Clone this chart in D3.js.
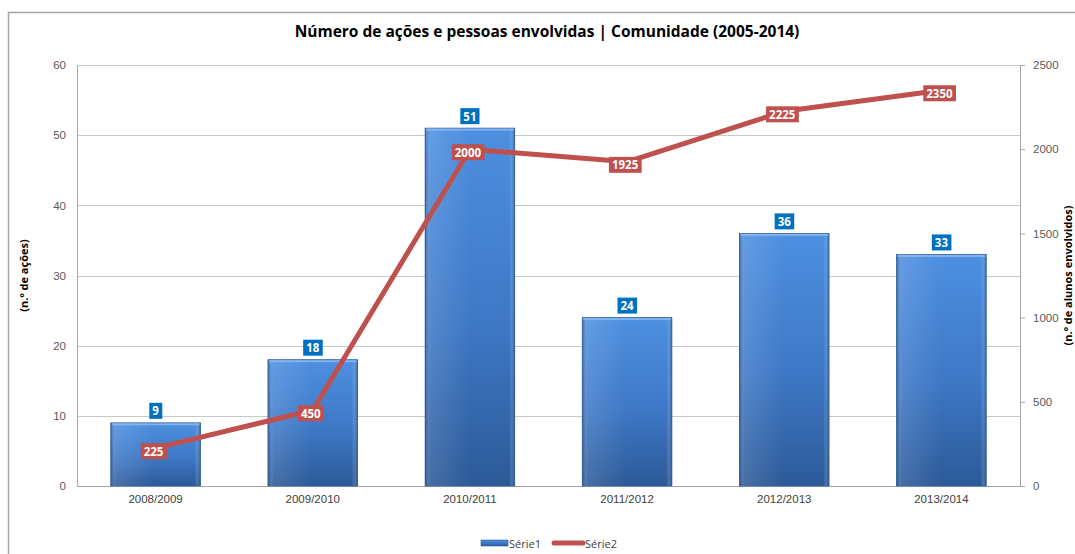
<!DOCTYPE html>
<html>
<head>
<meta charset="utf-8">
<script src="https://cdn.jsdelivr.net/npm/d3@7"></script>
<style>
  body { margin: 0; background: #fff; }
  svg { display: block; font-family: "Open Sans", "Noto Sans", sans-serif; }
</style>
</head>
<body>
<div id="chart"></div>
<script>
// Data
const categories = ["2008/2009", "2009/2010", "2010/2011", "2011/2012", "2012/2013", "2013/2014"];
const serie1 = [9, 18, 51, 24, 36, 33];
const serie2 = [225, 450, 2000, 1925, 2225, 2350];
const leftTicks = [0, 10, 20, 30, 40, 50, 60];
const rightTicks = [0, 500, 1000, 1500, 2000, 2500];
const seriesNames = ["Série1", "Série2"];

const W = 1075;
const H = 554;
const margin = { top: 65, bottom: 68, left: 77, right: 55 };
const width = W - margin.left - margin.right;
const height = H - margin.top - margin.bottom;
const font = '"Open Sans", "Noto Sans", sans-serif';

const svg = d3.select("#chart").append("svg").attr("width", W).attr("height", H);

// Frame of the chart area
svg.append("path")
  .attr("d", `M8.5,${H}V12.5H${W}`)
  .attr("fill", "none")
  .attr("stroke", "#a6a6a6")
  .attr("stroke-width", 1.5);

const defs = svg.append("defs");
const grad = defs.append("linearGradient").attr("id", "barGrad")
  .attr("x1", 0).attr("y1", 0).attr("x2", 0).attr("y2", 1);
grad.append("stop").attr("offset", "0%").attr("stop-color", "#4d8fe0");
grad.append("stop").attr("offset", "55%").attr("stop-color", "#3e78c6");
grad.append("stop").attr("offset", "100%").attr("stop-color", "#2c5a98");
const side = defs.append("linearGradient").attr("id", "barSide")
  .attr("x1", 0).attr("y1", 0).attr("x2", 1).attr("y2", 0);
side.append("stop").attr("offset", "0%").attr("stop-color", "#1f4a85").attr("stop-opacity", 0.55);
side.append("stop").attr("offset", "6%").attr("stop-color", "#ffffff").attr("stop-opacity", 0.12);
side.append("stop").attr("offset", "50%").attr("stop-color", "#ffffff").attr("stop-opacity", 0);
side.append("stop").attr("offset", "94%").attr("stop-color", "#ffffff").attr("stop-opacity", 0);
side.append("stop").attr("offset", "100%").attr("stop-color", "#1f4a85").attr("stop-opacity", 0.55);

const chart = svg.append("g").attr("transform", `translate(${margin.left},${margin.top})`);

// Scales
const xScale = d3.scaleBand().domain(categories).range([0, width]).paddingInner(0.43).paddingOuter(0.215);
const xPoint = (c) => xScale(c) + xScale.bandwidth() / 2;
const yLeft = d3.scaleLinear().domain([0, 60]).range([height, 0]);
const yRight = d3.scaleLinear().domain([0, 2500]).range([height, 0]);

// Gridlines
chart.append("g")
  .selectAll("line")
  .data(leftTicks.slice(1))
  .join("line")
  .attr("x1", 0)
  .attr("x2", width)
  .attr("y1", (d) => Math.round(yLeft(d)) + 0.5)
  .attr("y2", (d) => Math.round(yLeft(d)) + 0.5)
  .attr("stroke", "#c8c8c8");

// Left axis
const leftAxis = chart.append("g")
  .attr("font-family", font)
  .call(d3.axisLeft(yLeft).tickValues(leftTicks).tickSize(0).tickPadding(11));
leftAxis.select(".domain").attr("stroke", "#a6a6a6");
leftAxis.selectAll("text").attr("fill", "#595959").attr("font-size", 11.5);

// Right axis
const rightAxis = chart.append("g")
  .attr("transform", `translate(${width},0)`)
  .attr("font-family", font)
  .call(d3.axisRight(yRight).tickValues(rightTicks).tickFormat(d3.format("d"))
    .tickSize(5).tickSizeOuter(0).tickPadding(8));
rightAxis.select(".domain").attr("stroke", "#a6a6a6");
rightAxis.selectAll("line").attr("stroke", "#a6a6a6");
rightAxis.selectAll("text").attr("fill", "#595959").attr("font-size", 11.5);

// Bottom axis
const bottomAxis = chart.append("g")
  .attr("transform", `translate(0,${height})`)
  .attr("font-family", font)
  .call(d3.axisBottom(xScale).tickSize(0).tickPadding(9));
bottomAxis.select(".domain").attr("stroke", "#a6a6a6");
bottomAxis.selectAll("text").attr("fill", "#404040").attr("font-size", 11.5);

// Bars
const bars = chart.append("g")
  .selectAll("g")
  .data(serie1)
  .join("g");
bars.append("rect")
  .attr("x", (d, i) => xScale(categories[i]))
  .attr("y", (d) => yLeft(d))
  .attr("width", xScale.bandwidth())
  .attr("height", (d) => height - yLeft(d))
  .attr("fill", "url(#barGrad)")
  .attr("stroke", "#2f5d99")
  .attr("stroke-width", 0.8);
bars.append("rect")
  .attr("x", (d, i) => xScale(categories[i]))
  .attr("y", (d) => yLeft(d))
  .attr("width", xScale.bandwidth())
  .attr("height", (d) => height - yLeft(d))
  .attr("fill", "url(#barSide)");
bars.append("rect")
  .attr("x", (d, i) => xScale(categories[i]) + 1)
  .attr("y", (d) => yLeft(d) + 0.5)
  .attr("width", xScale.bandwidth() - 2)
  .attr("height", 2)
  .attr("fill", "#8fbcf0")
  .attr("opacity", 0.8);

// Line
const line = d3.line()
  .x((d, i) => xPoint(categories[i]))
  .y((d) => yRight(d));
chart.append("path")
  .datum(serie2)
  .attr("d", line)
  .attr("fill", "none")
  .attr("stroke", "#c0504d")
  .attr("stroke-width", 5)
  .attr("stroke-linejoin", "round")
  .attr("stroke-linecap", "round");

// Data labels
function addLabel(g, x, y, text, fill) {
  const t = g.append("text")
    .attr("x", x)
    .attr("y", y)
    .attr("text-anchor", "middle")
    .attr("dominant-baseline", "central")
    .attr("fill", "#fff")
    .attr("font-weight", "bold")
    .attr("font-size", 11.5)
    .text(text);
  const bb = t.node().getBBox();
  g.insert("rect", "text")
    .attr("x", bb.x - 3)
    .attr("y", y - 8)
    .attr("width", bb.width + 6)
    .attr("height", 16)
    .attr("fill", fill);
}

const labels1 = chart.append("g");
serie1.forEach((d, i) => {
  const g = labels1.append("g");
  addLabel(g, xPoint(categories[i]), yLeft(d) - 12, d, "#0070c0");
});
const labels2 = chart.append("g");
serie2.forEach((d, i) => {
  const g = labels2.append("g");
  addLabel(g, xPoint(categories[i]) - 2, yRight(d) + 3, d, "#c0504d");
});

// Title
svg.append("text")
  .attr("x", 547)
  .attr("y", 37)
  .attr("text-anchor", "middle")
  .attr("font-weight", "bold")
  .attr("font-size", 15.5)
  .attr("fill", "#000")
  .text("Número de ações e pessoas envolvidas | Comunidade (2005-2014)");

// Axis titles
svg.append("text")
  .attr("transform", `translate(28,${margin.top + height / 2}) rotate(-90)`)
  .attr("text-anchor", "middle")
  .attr("font-weight", "bold")
  .attr("font-size", 11)
  .attr("fill", "#000")
  .text("(n.º de ações)");
svg.append("text")
  .attr("transform", `translate(1072,${margin.top + height / 2}) rotate(-90)`)
  .attr("text-anchor", "middle")
  .attr("font-weight", "bold")
  .attr("font-size", 11)
  .attr("fill", "#000")
  .text("(n.º de alunos envolvidos)");

// Legend
const legend = svg.append("g").attr("transform", "translate(481,543)");
legend.append("rect")
  .attr("x", 0).attr("y", -3).attr("width", 27).attr("height", 6)
  .attr("fill", "url(#barGrad)").attr("stroke", "#2f5d99").attr("stroke-width", 0.6);
legend.append("text")
  .attr("x", 28).attr("y", 0).attr("dominant-baseline", "central")
  .attr("font-size", 11).attr("fill", "#404040").text(seriesNames[0]);
legend.append("line")
  .attr("x1", 73).attr("x2", 102).attr("y1", 0).attr("y2", 0)
  .attr("stroke", "#c0504d").attr("stroke-width", 5).attr("stroke-linecap", "round");
legend.append("text")
  .attr("x", 104).attr("y", 0).attr("dominant-baseline", "central")
  .attr("font-size", 11).attr("fill", "#404040").text(seriesNames[1]);
</script>
</body>
</html>
